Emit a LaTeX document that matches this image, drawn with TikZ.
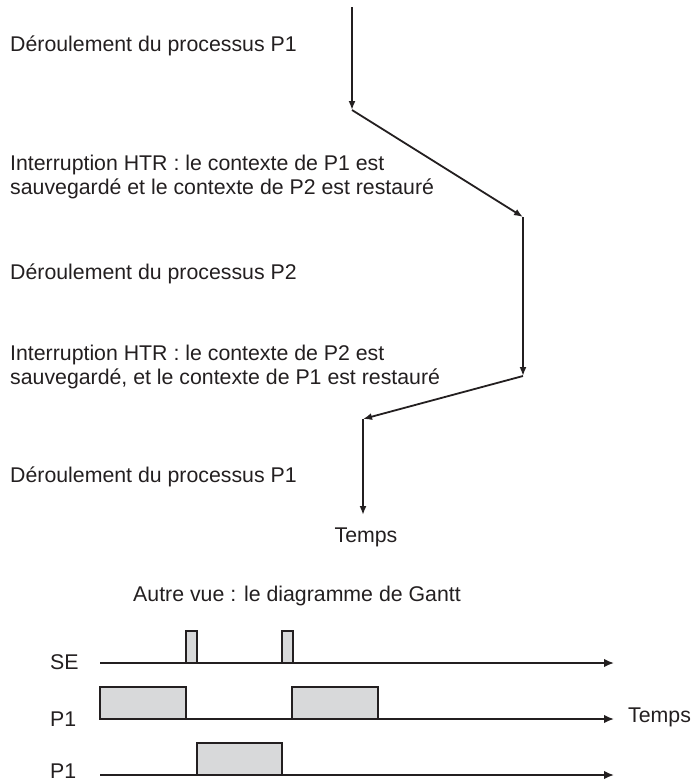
\documentclass[tikz,border=0pt]{standalone}
\usepackage{fontspec}
\setmainfont{Liberation Sans}
\usetikzlibrary{positioning,arrows.meta}

\definecolor{ink}{HTML}{231F20}
\definecolor{boxgray}{HTML}{D8D9DA}

\tikzset{
  flow/.style={ink, line width=1.8pt, -{Latex[length=9pt,width=7pt]}},
  axis/.style={ink, line width=1.7pt, -{Latex[length=10pt,width=8.5pt]}},
  task/.style={draw=ink, line width=2.2pt, fill=boxgray},
  txt/.style={anchor=west, inner sep=0pt, align=left, text=ink,
              font=\fontsize{21.3}{24.5}\selectfont},
  lbl/.style={anchor=west, inner sep=0pt, text=ink,
              font=\fontsize{21.3}{24.5}\selectfont},
}

\begin{document}
\begin{tikzpicture}[x=1pt,y=-1pt]
  \useasboundingbox (0,0) rectangle (694,782);

  % time line of the two processes
  \coordinate (t0) at (352,7);
  \coordinate (t1) at (352,110);
  \coordinate (t2) at (523,217);
  \coordinate (t3) at (523,376);
  \coordinate (t4) at (363,419);
  \coordinate (t5) at (363,515);

  \node[txt] (run1) at (10,46) {Déroulement du processus P1};
  \node[txt] (irq1) at (10,177) {Interruption HTR : le contexte de P1 est\\
    sauvegardé et le contexte de P2 est restauré};
  \node[txt] (run2) at (10,274) {Déroulement du processus P2};
  \node[txt] (irq2) at (10,367) {Interruption HTR : le contexte de P2 est\\
    sauvegardé, et le contexte de P1 est restauré};
  \node[txt] (run3) at (10,477) {Déroulement du processus P1};
  \node[lbl, anchor=center] (temps) at (366,537) {Temps};

  \draw[flow] (t0) -- (t1);
  \draw[flow] (t1) -- (t2);
  \draw[flow] (t2) -- (t3);
  \draw[flow] (t3) -- (t4);
  \draw[flow] (t4) -- (t5);

  % Gantt chart
  \node[lbl] (gantt) at (133,596) {Autre vue : le diagramme de Gantt};

  \coordinate (se0) at (100,663);
  \coordinate (se1) at (614,663);
  \coordinate (pa0) at (100,719);
  \coordinate (pa1) at (614,719);
  \coordinate (pb0) at (100,775);
  \coordinate (pb1) at (614,775);

  \node[lbl] (lse) at (50,662) {SE};
  \node[lbl] (lpa) at (50,719) {P1};
  \node[lbl] (lpb) at (50,771) {P1};
  \node[lbl] (tps) at (628,717) {Temps};

  \draw[task] (186,631) rectangle (197,663);
  \draw[task] (282,631) rectangle (293,663);
  \draw[task] (100,687) rectangle (186,719);
  \draw[task] (292,687) rectangle (378,719);
  \draw[task] (197,743) rectangle (282,775);

  \draw[axis] (se0) -- (se1);
  \draw[axis] (pa0) -- (pa1);
  \draw[axis] (pb0) -- (pb1);
\end{tikzpicture}
\end{document}
